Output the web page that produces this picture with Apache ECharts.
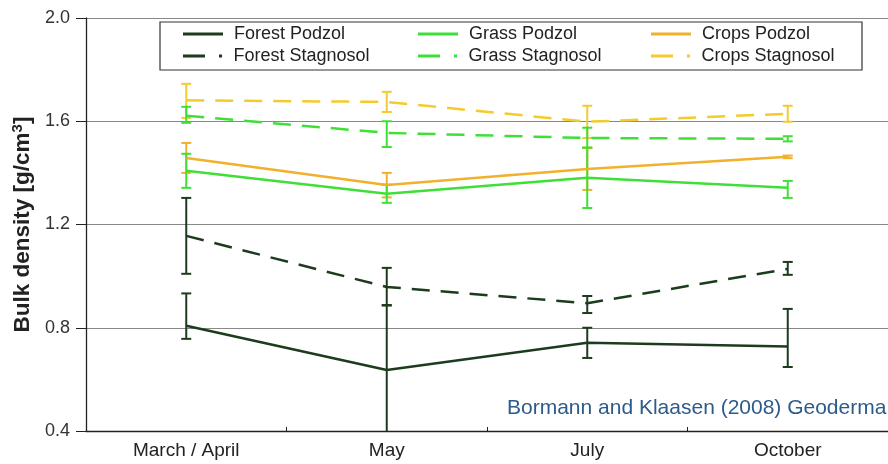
<!DOCTYPE html>
<html>
<head>
<meta charset="utf-8">
<script src="https://cdn.jsdelivr.net/npm/echarts@6/dist/echarts.min.js"></script>
<style>html,body{margin:0;padding:0;background:#fff;}#c{width:888px;height:464px;}</style>
</head>
<body>
<div id="c"></div>
<script>
const categories = ['March / April', 'May', 'July', 'October'];
const yTicks = [0.4, 0.8, 1.2, 1.6, 2.0];

const forestPodzol     = [0.808, 0.636, 0.742, 0.727];
const forestPodzolLow  = [0.757, 0.386, 0.683, 0.648];
const forestPodzolHigh = [0.933, 0.886, 0.800, 0.873];

const forestStag     = [1.156, 0.958, 0.895, 1.028];
const forestStagLow  = [1.009, 0.888, 0.857, 1.005];
const forestStagHigh = [1.303, 1.032, 0.923, 1.055];

const grassPodzol     = [1.408, 1.319, 1.381, 1.342];
const grassPodzolLow  = [1.342, 1.284, 1.264, 1.303];
const grassPodzolHigh = [1.474, 1.354, 1.498, 1.369];

const cropsPodzol     = [1.458, 1.353, 1.415, 1.462];
const cropsPodzolLow  = [1.400, 1.305, 1.334, 1.457];
const cropsPodzolHigh = [1.516, 1.400, 1.497, 1.467];

const grassStag     = [1.621, 1.555, 1.535, 1.532];
const grassStagLow  = [1.594, 1.500, 1.497, 1.522];
const grassStagHigh = [1.656, 1.600, 1.575, 1.542];

const cropsStag     = [1.681, 1.675, 1.598, 1.629];
const cropsStagLow  = [1.613, 1.636, 1.535, 1.598];
const cropsStagHigh = [1.745, 1.714, 1.660, 1.660];

const seriesNames = ['Forest Podzol', 'Grass Podzol', 'Crops Podzol', 'Forest Stagnosol', 'Grass Stagnosol', 'Crops Stagnosol'];
const seriesVals  = [forestPodzol, grassPodzol, cropsPodzol, forestStag, grassStag, cropsStag];
const seriesLow   = [forestPodzolLow, grassPodzolLow, cropsPodzolLow, forestStagLow, grassStagLow, cropsStagLow];
const seriesHigh  = [forestPodzolHigh, grassPodzolHigh, cropsPodzolHigh, forestStagHigh, grassStagHigh, cropsStagHigh];
const seriesColors = ['#1d3b1d', '#3fdf38', '#f2b02c', '#1d3b1d', '#3fdf38', '#f4cb2c'];
const dashed = [false, false, false, true, true, true];

const FONT = '"Liberation Sans", Arial, sans-serif';

function makeErr(color) {
  return function (params, api) {
    const x = api.value(0), lo = api.value(1), hi = api.value(2);
    const pLo = api.coord([x, lo]);
    const pHi = api.coord([x, hi]);
    const cs = params.coordSys;
    const yMin = cs.y, yMax = cs.y + cs.height;
    const yl = Math.min(pLo[1], yMax), yh = Math.max(pHi[1], yMin);
    const w = 5;
    const st = { stroke: color, lineWidth: 2 };
    const ch = [{ type: 'line', shape: { x1: pLo[0], y1: yl, x2: pLo[0], y2: yh }, style: st }];
    if (pLo[1] <= yMax) ch.push({ type: 'line', shape: { x1: pLo[0] - w, y1: pLo[1], x2: pLo[0] + w, y2: pLo[1] }, style: st });
    if (pHi[1] >= yMin) ch.push({ type: 'line', shape: { x1: pHi[0] - w, y1: pHi[1], x2: pHi[0] + w, y2: pHi[1] }, style: st });
    return { type: 'group', children: ch };
  };
}

const series = [];
const order = [5, 4, 2, 1, 3, 0];
order.forEach(i => {
  series.push({
    name: seriesNames[i] + ' error',
    type: 'custom',
    renderItem: makeErr(seriesColors[i]),
    data: categories.map((c, k) => [k, seriesLow[i][k], seriesHigh[i][k]]),
    silent: true,
    z: 3
  });
});
order.forEach(i => {
  series.push({
    name: seriesNames[i],
    type: 'line',
    data: seriesVals[i],
    symbol: 'none',
    color: seriesColors[i],
    itemStyle: { color: seriesColors[i] },
    lineStyle: { color: seriesColors[i], width: 2.5, type: dashed[i] ? [18, 11] : 'solid' },
    z: 4
  });
});

const legendPos = [
  { left: 183, top: 25 }, { left: 418, top: 25 }, { left: 651, top: 25 },
  { left: 183, top: 47 }, { left: 418, top: 47 }, { left: 651, top: 47 }
];
const solidIcon = 'path://M0,0H40V3H0Z';
const dashDotIcon = 'path://M0,0H22V3H0Z M36,0H39V3H36Z';
const legends = seriesNames.map((n, i) => ({
  data: [{ name: n, icon: dashed[i] ? dashDotIcon : solidIcon, itemStyle: { color: seriesColors[i] } }],
  left: legendPos[i].left,
  top: legendPos[i].top,
  padding: 0,
  itemWidth: 40,
  itemHeight: 3,
  selectedMode: false,
  textStyle: { fontFamily: FONT, fontSize: 18, color: '#222', padding: [0, 0, 0, 6] }
}));

const chart = echarts.init(document.getElementById('c'), null, { renderer: 'canvas' });
chart.setOption({
  animation: false,
  backgroundColor: '#fff',
  grid: { left: 86, top: 18, width: 808, height: 413, containLabel: false },
  legend: legends,
  xAxis: {
    type: 'category',
    data: categories,
    boundaryGap: true,
    axisLine: { lineStyle: { color: '#222', width: 1.3 } },
    axisTick: { show: true, inside: true, length: 4, lineStyle: { color: '#222' } },
    axisLabel: { fontFamily: FONT, fontSize: 19, color: '#222', margin: 10 },
    splitLine: { show: false }
  },
  yAxis: {
    type: 'value',
    min: 0.4, max: 2.0, interval: 0.4,
    name: 'Bulk density [g/cm{sup|3}]',
    nameLocation: 'middle',
    nameGap: 50,
    nameTextStyle: {
      fontFamily: FONT, fontSize: 22.5, fontWeight: 'bold', color: '#222',
      rich: { sup: { fontFamily: FONT, fontSize: 15, fontWeight: 'bold', color: '#222', padding: [0, 0, 10, 0] } }
    },
    axisLine: { show: true, lineStyle: { color: '#222', width: 1.3 } },
    axisTick: { show: true, length: 10, lineStyle: { color: '#222' } },
    axisLabel: { fontFamily: FONT, fontSize: 18, color: '#333', margin: 16, formatter: v => v.toFixed(1) },
    splitLine: { show: true, lineStyle: { color: '#888', width: 1.2 } }
  },
  graphic: [
    { type: 'rect', shape: { x: 160, y: 22, width: 702, height: 48 }, style: { fill: '#fff', stroke: '#333', lineWidth: 1.2 }, z: 0 },
    { type: 'text', left: 507, top: 398, style: { text: 'Bormann and Klaasen (2008) Geoderma', fontFamily: FONT, fontSize: 21, fill: '#2c5a8a' }, z: 10 }
  ],
  series: series
});
</script>
</body>
</html>
